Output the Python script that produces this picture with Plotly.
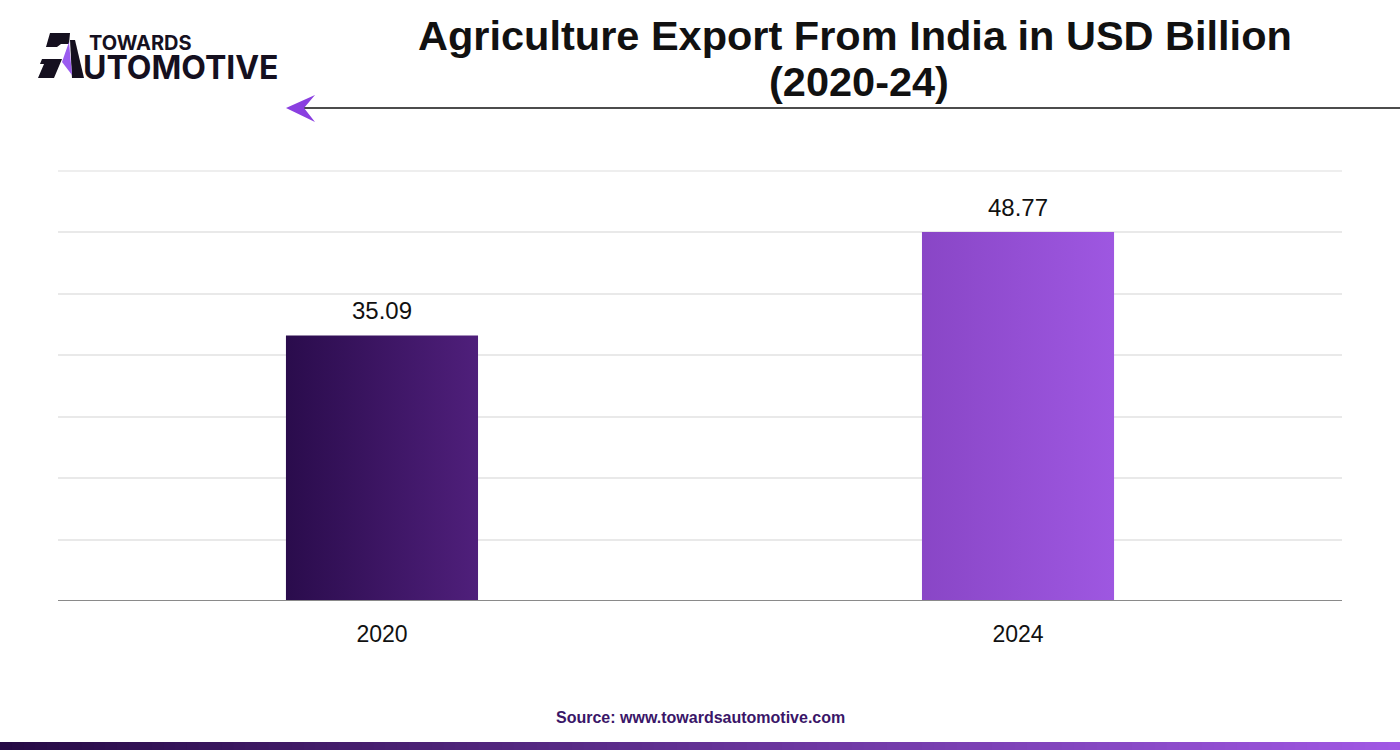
import plotly.graph_objects as go

# ---- data ----
categories = ["2020", "2024"]
values = [35.09, 48.77]
value_labels = ["35.09", "48.77"]
bar_gradients = [("#2a0c4c", "#4f1f7b"), ("#8946c6", "#9e57e1")]

title_line1 = "Agriculture Export From India in USD Billion"
title_line2 = "(2020-24)"
source_text = "Source: www.towardsautomotive.com"

Y_MAX = 56.84
N_GRID = 7
BAR_HALF = 0.151
X_PAD = 0.5094

fig = go.Figure()

# bars drawn as gradient-filled polygons on a numeric axis
for i, (cat, v) in enumerate(zip(categories, values)):
    c0, c1 = bar_gradients[i]
    fig.add_trace(go.Scatter(
        x=[i - BAR_HALF, i + BAR_HALF, i + BAR_HALF, i - BAR_HALF, i - BAR_HALF],
        y=[0, 0, v, v, 0],
        fill="toself",
        fillgradient=dict(type="horizontal", colorscale=[[0, c0], [1, c1]]),
        line=dict(width=0, color=c0),
        mode="lines",
        hoverinfo="skip",
        showlegend=False,
    ))

# value labels
for i, (v, lab) in enumerate(zip(values, value_labels)):
    fig.add_annotation(x=i, y=v, text=lab, showarrow=False, yanchor="middle",
                       yshift=25,
                       font=dict(family="Liberation Sans, Arial", size=24, color="#111111"))

fig.update_layout(
    width=1400, height=750,
    margin=dict(l=58, r=58, t=171, b=149),
    paper_bgcolor="white", plot_bgcolor="white",
    showlegend=False,
    xaxis=dict(
        range=[-X_PAD, len(categories) - 1 + X_PAD],
        tickvals=list(range(len(categories))),
        ticktext=categories,
        showgrid=False, zeroline=False,
        showline=False, ticks="",
        ticklabelstandoff=17,
        tickfont=dict(family="Liberation Sans, Arial", size=23, color="#111111"),
        fixedrange=True,
    ),
    yaxis=dict(
        range=[0, Y_MAX],
        tickvals=[Y_MAX * k / N_GRID for k in range(N_GRID + 1)],
        showticklabels=False,
        showgrid=True, gridcolor="#e9e9e9", gridwidth=1.5,
        zeroline=False, showline=False, ticks="",
        fixedrange=True,
    ),
)

# top gridline (edge of the plot area) and baseline
fig.add_shape(type="line", xref="paper", yref="paper", x0=0, x1=1, y0=1, y1=1,
              line=dict(color="#e9e9e9", width=1.5))
fig.add_shape(type="line", xref="paper", yref="y", x0=0, x1=1, y0=0, y1=0,
              line=dict(color="#8a8a8a", width=2))


def fx(xp):
    return (xp - 58) / 1284


def fy(yp):
    return (601 - yp) / 430


# title (two lines, tight spacing)
fig.add_annotation(text="<b>" + title_line1 + "</b>", xref="paper", yref="paper",
                   x=fx(855), y=fy(35), showarrow=False, xanchor="center", yanchor="middle",
                   font=dict(family="Liberation Sans, Arial", size=41.5, color="#111111"))
fig.add_annotation(text="<b>" + title_line2 + "</b>", xref="paper", yref="paper",
                   x=fx(859), y=fy(81), showarrow=False, xanchor="center", yanchor="middle",
                   font=dict(family="Liberation Sans, Arial", size=41.5, color="#111111"))

# header rule with arrowhead
fig.add_shape(type="line", xref="paper", yref="paper",
              x0=fx(300), x1=fx(1400), y0=fy(108), y1=fy(108),
              line=dict(color="#111111", width=1.5))


def path(points):
    parts = []
    for k, (a, b) in enumerate(points):
        parts.append(("M" if k == 0 else "L") + f"{fx(a):.5f},{fy(b):.5f}")
    return " ".join(parts) + " Z"


# arrowhead
fig.add_shape(type="path", xref="paper", yref="paper",
              path=path([(286, 108), (315, 95), (304, 108), (315, 122)]),
              fillcolor="#8a3fe0", line=dict(width=0))

# logo mark "A"
fig.add_shape(type="path", xref="paper", yref="paper",
              path=path([(50, 33), (70, 33), (69, 44), (61, 44), (57, 47), (46, 47)]),
              fillcolor="#15101f", line=dict(width=0))
fig.add_shape(type="path", xref="paper", yref="paper",
              path=path([(38, 78), (44, 64), (40, 64), (42, 59), (62, 59), (54, 78)]),
              fillcolor="#15101f", line=dict(width=0))
fig.add_shape(type="path", xref="paper", yref="paper",
              path=path([(70, 40), (75, 40), (84, 78), (72, 78)]),
              fillcolor="#15101f", line=dict(width=0))
fig.add_shape(type="path", xref="paper", yref="paper",
              path=path([(69, 42), (62, 62), (72, 75)]),
              fillcolor="#9b5cf0", line=dict(width=0))

fig.add_annotation(text="<b>TOWARDS</b>", xref="paper", yref="paper",
                   x=fx(87), y=fy(43), xanchor="left", yanchor="middle",
                   showarrow=False,
                   font=dict(family="Inter, Arial", size=20, color="#15101f", weight=900))
fig.add_annotation(text="<b>UTOMOTIVE</b>", xref="paper", yref="paper",
                   x=fx(81), y=fy(67), xanchor="left", yanchor="middle",
                   showarrow=False,
                   font=dict(family="Inter, Arial", size=32, color="#15101f", weight=900))

# source
fig.add_annotation(text="<b>" + source_text + "</b>", xref="paper", yref="paper",
                   x=fx(700), y=fy(717), xanchor="center", yanchor="middle",
                   showarrow=False,
                   font=dict(family="Liberation Sans, Arial", size=16, color="#3a1668"))

# bottom gradient strip
n = 120


def lerp(c0, c1, t):
    a = [int(c0[j:j + 2], 16) for j in (1, 3, 5)]
    b = [int(c1[j:j + 2], 16) for j in (1, 3, 5)]
    return "#%02x%02x%02x" % tuple(round(a[k] + (b[k] - a[k]) * t) for k in range(3))


for k in range(n):
    fig.add_shape(type="rect", xref="paper", yref="paper",
                  x0=fx(1400 * k / n), x1=fx(1400 * (k + 1) / n + 1),
                  y0=fy(750), y1=fy(742),
                  fillcolor=lerp("#260a45", "#a058e4", k / (n - 1)), line=dict(width=0))

fig.write_html("out.html", config={"displayModeBar": False},
               post_script="document.body.style.margin='0';")
